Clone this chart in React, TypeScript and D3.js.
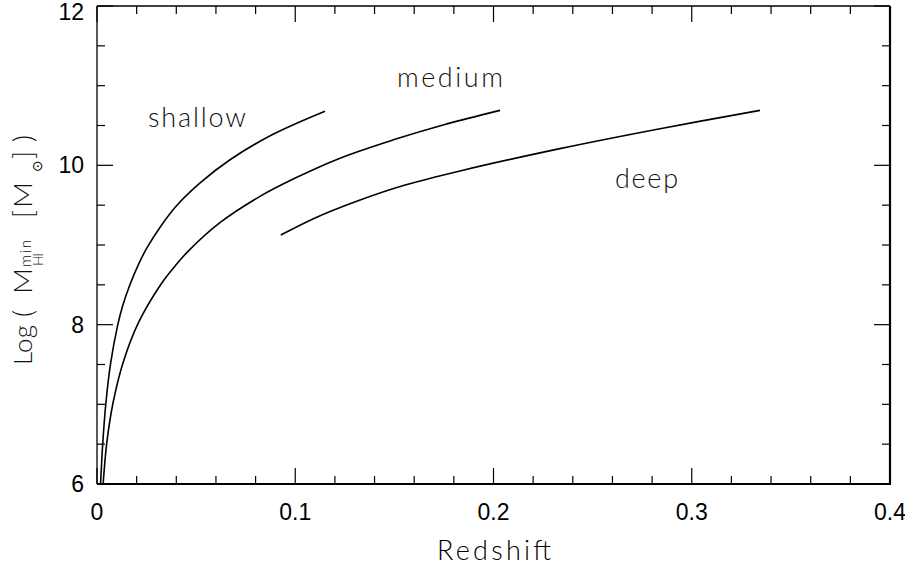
import React from "react";
import * as d3 from "d3";

// values
const shallowZ = [0.0018, 0.0029, 0.0045, 0.0069, 0.0105, 0.013, 0.0166, 0.021, 0.0251, 0.032, 0.04, 0.052, 0.0671, 0.0888, 0.115];
const shallowLogM = [6.0, 6.51, 7.02, 7.52, 8.0, 8.24, 8.5, 8.76, 8.96, 9.23, 9.49, 9.78, 10.07, 10.39, 10.68];

const mediumZ = [0.0031, 0.0049, 0.0081, 0.0131, 0.0208, 0.0326, 0.0395, 0.0459, 0.062, 0.0822, 0.1, 0.1226, 0.1495, 0.175, 0.2033];
const mediumLogM = [6.0, 6.51, 7.02, 7.52, 8.02, 8.52, 8.74, 8.92, 9.28, 9.61, 9.84, 10.09, 10.32, 10.51, 10.69];

const deepZ = [0.0927, 0.11, 0.1327, 0.155, 0.1831, 0.2335, 0.284, 0.3344];
const deepLogM = [9.125, 9.34, 9.565, 9.75, 9.93, 10.21, 10.46, 10.69];

const xTickLabels = ["0", "0.1", "0.2", "0.3", "0.4"];
const yTickLabels = ["6", "8", "10", "12"];

// label anchors in data units: [z, logM]
const curveLabels = [
  { text: "shallow", z: 0.0257, v: 10.48, len: 98 },
  { text: "medium", z: 0.1513, v: 10.98, len: 106 },
  { text: "deep", z: 0.2613, v: 9.72, len: 63 },
];

const W = 905;
const H = 567;
const plot = { left: 97, right: 890, top: 6, bottom: 484 };
const thinFont = "Lato, 'Open Sans', sans-serif";
const tickFont = "'Liberation Sans', Arial, sans-serif";

const App = () => {
  const x = d3.scaleLinear().domain([0, 0.4]).range([plot.left, plot.right]);
  const y = d3.scaleLinear().domain([6, 12]).range([plot.bottom, plot.top]);

  const line = d3
    .line<[number, number]>()
    .x((d) => x(d[0]))
    .y((d) => y(d[1]))
    .curve(d3.curveCatmullRom.alpha(0.5));

  const series = [
    d3.zip(shallowZ, shallowLogM) as [number, number][],
    d3.zip(mediumZ, mediumLogM) as [number, number][],
    d3.zip(deepZ, deepLogM) as [number, number][],
  ];

  const xMajor = xTickLabels.map(Number);
  const xMinor = d3.range(0, 0.4001, 0.02).filter((t) => !xMajor.some((m) => Math.abs(m - t) < 1e-6));
  const yMajor = yTickLabels.map(Number);
  const yMinor = d3.range(6, 12.001, 0.5).filter((t) => !yMajor.some((m) => Math.abs(m - t) < 1e-6));

  const major = 16;
  const minor = 8;

  return (
    <svg width={W} height={H} style={{ position: "absolute", left: 0, top: 0, background: "#fff" }}>
      {/* ticks on all four sides, pointing in */}
      <g stroke="#000" strokeWidth={1.2}>
        {xMajor.map((t) => (
          <g key={"xM" + t}>
            <line x1={x(t)} x2={x(t)} y1={plot.bottom} y2={plot.bottom - major} />
            <line x1={x(t)} x2={x(t)} y1={plot.top} y2={plot.top + major} />
          </g>
        ))}
        {xMinor.map((t) => (
          <g key={"xm" + t}>
            <line x1={x(t)} x2={x(t)} y1={plot.bottom} y2={plot.bottom - minor} />
            <line x1={x(t)} x2={x(t)} y1={plot.top} y2={plot.top + minor} />
          </g>
        ))}
        {yMajor.map((t) => (
          <g key={"yM" + t}>
            <line x1={plot.left} x2={plot.left + major} y1={y(t)} y2={y(t)} />
            <line x1={plot.right} x2={plot.right - major} y1={y(t)} y2={y(t)} />
          </g>
        ))}
        {yMinor.map((t) => (
          <g key={"ym" + t}>
            <line x1={plot.left} x2={plot.left + minor} y1={y(t)} y2={y(t)} />
            <line x1={plot.right} x2={plot.right - minor} y1={y(t)} y2={y(t)} />
          </g>
        ))}
      </g>

      {/* frame */}
      <g stroke="#000" fill="none">
        <line x1={plot.left} x2={plot.right} y1={plot.top} y2={plot.top} strokeWidth={1.3} />
        <line x1={plot.left} x2={plot.left} y1={plot.top} y2={plot.bottom} strokeWidth={1.3} />
        <line x1={plot.left} x2={plot.right + 1} y1={plot.bottom} y2={plot.bottom} strokeWidth={2.2} />
        <line x1={plot.right} x2={plot.right} y1={plot.top} y2={plot.bottom} strokeWidth={2.2} />
      </g>

      {/* curves */}
      <g fill="none" stroke="#000" strokeWidth={1.6}>
        {series.map((s, i) => (
          <path key={i} d={line(s) || ""} />
        ))}
      </g>

      {/* tick labels */}
      <g fontFamily={tickFont} fontSize={23} fill="#000">
        {xTickLabels.map((lab, i) => (
          <text key={lab} x={x(xMajor[i])} y={520} textAnchor="middle">
            {lab}
          </text>
        ))}
        {yTickLabels.map((lab, i) => (
          <text key={lab} x={84} y={Math.max(y(yMajor[i]) + 8, 20)} textAnchor="end">
            {lab}
          </text>
        ))}
      </g>

      {/* curve labels */}
      <g fontFamily={thinFont} fontWeight={300} fontSize={27} fill="#111">
        {curveLabels.map((l) => (
          <text key={l.text} x={x(l.z)} y={y(l.v)} textLength={l.len} lengthAdjust="spacing">
            {l.text}
          </text>
        ))}
      </g>

      {/* axis titles */}
      <text x={437} y={560} fontFamily={thinFont} fontWeight={300} fontSize={27} textLength={114} lengthAdjust="spacing">
        Redshift
      </text>

      <g transform="translate(32,245) rotate(-90)" fontFamily={thinFont} fontWeight={300} fill="#111">
        <text x={-120} y={0} fontSize={26} textLength={40} lengthAdjust="spacing">
          Log
        </text>
        <text x={-72} y={1} fontSize={27}>
          (
        </text>
        <text x={-49} y={0} fontSize={26} textLength={26} lengthAdjust="spacingAndGlyphs">
          M
        </text>
        <text x={-22} y={-1} fontSize={15} textLength={27} lengthAdjust="spacing">
          min
        </text>
        <text x={-21} y={11} fontSize={14} textLength={13} lengthAdjust="spacing">
          HI
        </text>
        <text x={27} y={1} fontSize={27}>
          [
        </text>
        <text x={37} y={0} fontSize={26} textLength={26} lengthAdjust="spacingAndGlyphs">
          M
        </text>
        <text x={73} y={10} fontSize={14} fontFamily="'DejaVu Sans', sans-serif" fontWeight={400}>
          ⊙
        </text>
        <text x={86} y={1} fontSize={27}>
          ]
        </text>
        <text x={103} y={1} fontSize={27}>
          )
        </text>
      </g>
    </svg>
  );
};

export default App;
